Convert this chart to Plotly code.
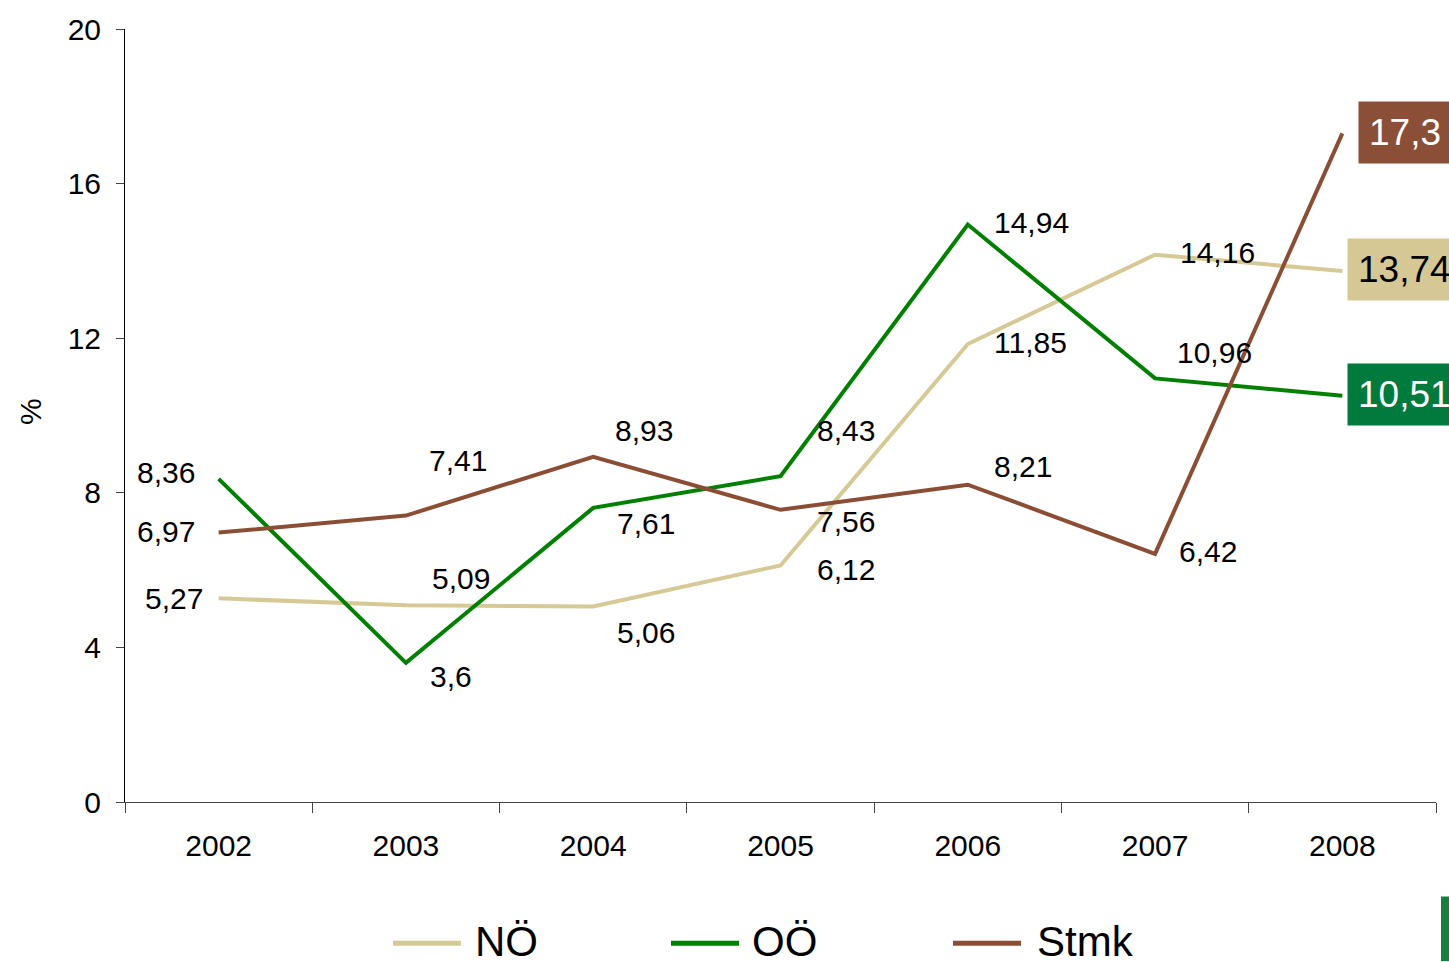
import plotly.graph_objects as go

years = ["2002", "2003", "2004", "2005", "2006", "2007", "2008"]
series_names = ["NÖ", "OÖ", "Stmk"]
noe = [5.27, 5.09, 5.06, 6.12, 11.85, 14.16, 13.74]
ooe = [8.36, 3.6, 7.61, 8.43, 14.94, 10.96, 10.51]
stmk = [6.97, 7.41, 8.93, 7.56, 8.21, 6.42, 17.3]
y_ticks = [0, 4, 8, 12, 16, 20]

values = [noe, ooe, stmk]
line_colors = ["#D6C995", "#008000", "#8B4E35"]
box_colors = ["#D5C895", "#007A3D", "#8B4E37"]
box_text_colors = ["black", "white", "white"]

# label placement (anchor, xshift, yshift) for points 0..5 of each series
label_pos = [
    [("right", -14, 0), ("left", 24, 27), ("left", 22, -26), ("left", 34, -4), ("left", 24, 2), ("left", 23, 2)],
    [("right", -22, 6), ("left", 22, -14), ("left", 22, -16), ("left", 34, 46), ("left", 24, 2), ("left", 20, 26)],
    [("right", -22, 1), ("left", 21, 55), ("left", 20, 26), ("left", 34, -12), ("left", 24, 18), ("left", 22, 2)],
]
box_xshift = [5, 5, 16]

W, H = 1449, 962
L, R, T, B = 125, 1436, 25, 802


def px_x(px):
    return (px - L) / (R - L)


def px_y(py):
    return (B - py) / (B - T)


def fmt(v):
    return f"{v:g}".replace(".", ",")


fig = go.Figure()
for name, vals, col in zip(series_names, values, line_colors):
    fig.add_trace(go.Scatter(x=years, y=vals, mode="lines", name=name,
                             line=dict(color=col, width=4), showlegend=False))

annotations = []
font_family = "Liberation Sans, Arial, sans-serif"
for si, vals in enumerate(values):
    for i, v in enumerate(vals[:-1]):
        anc, xs, ys = label_pos[si][i]
        annotations.append(dict(x=i, y=v, xref="x", yref="y", text=fmt(v),
                                showarrow=False, xanchor=anc, yanchor="middle",
                                xshift=xs, yshift=ys,
                                font=dict(size=30, color="black", family=font_family)))
    n = len(vals) - 1
    annotations.append(dict(x=n, y=vals[-1], xref="x", yref="y", text=fmt(vals[-1]),
                            showarrow=False, xanchor="left", yanchor="middle",
                            xshift=box_xshift[si], yshift=1, bgcolor=box_colors[si], borderpad=10,
                            font=dict(size=37, color=box_text_colors[si], family=font_family)))

# y-axis title
annotations.append(dict(x=px_x(30), y=px_y(410), xref="paper", yref="paper", text="%",
                        textangle=-90, showarrow=False, xanchor="center", yanchor="middle",
                        font=dict(size=30, color="black", family=font_family)))

# manual legend
shapes = []
leg_lines = [(393, 461, 473), (671, 739, 750), (953, 1021, 1035)]
for (x0, x1, tx), name, col in zip(leg_lines, series_names, line_colors):
    shapes.append(dict(type="line", xref="paper", yref="paper",
                       x0=px_x(x0), x1=px_x(x1), y0=px_y(944), y1=px_y(944),
                       line=dict(color=col, width=5)))
    annotations.append(dict(x=px_x(tx), y=px_y(942), xref="paper", yref="paper", text=name,
                            showarrow=False, xanchor="left", yanchor="middle",
                            font=dict(size=42, color="black", family=font_family)))

# green edge bar
shapes.append(dict(type="rect", xref="paper", yref="paper",
                   x0=px_x(1441), x1=px_x(1452), y0=px_y(962), y1=px_y(897),
                   fillcolor="#16803F", line=dict(width=0)))

fig.update_layout(
    width=W, height=H, autosize=False,
    margin=dict(l=L, r=W - R, t=T, b=H - B),
    paper_bgcolor="white", plot_bgcolor="white",
    font=dict(family=font_family, size=30, color="black"),
    annotations=annotations, shapes=shapes,
    xaxis=dict(type="category", range=[-0.5, 6.5], showgrid=False, zeroline=False,
               showline=True, linecolor="#444444", linewidth=1,
               ticks="outside", ticklen=10, tickcolor="#444444", tickson="boundaries",
               ticklabelstandoff=17,
               tickfont=dict(size=30, family=font_family, color="black")),
    yaxis=dict(range=[0, 20], tickvals=y_ticks, showgrid=False, zeroline=False,
               showline=True, linecolor="black", linewidth=1,
               ticks="outside", ticklen=8, tickcolor="#444444",
               ticklabelstandoff=9,
               tickfont=dict(size=30, family=font_family, color="black")),
)

fig.write_html("out.html", config={"displayModeBar": False},
               post_script="document.body.style.margin='0';document.body.style.overflow='hidden';")
